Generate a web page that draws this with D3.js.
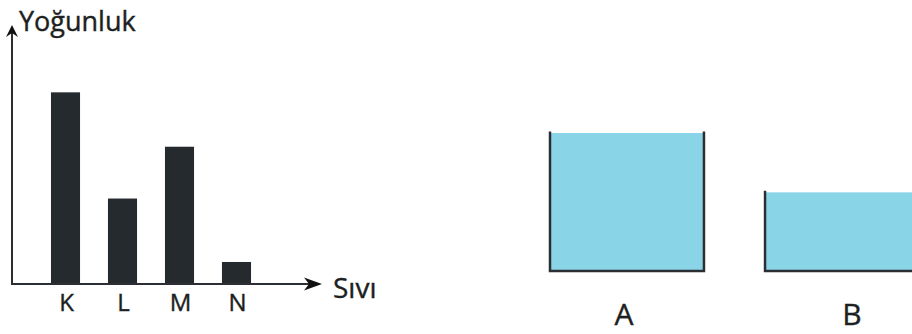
<!DOCTYPE html>
<html>
<head>
<meta charset="utf-8">
<script src="https://cdn.jsdelivr.net/npm/d3@7"></script>
<style>
  html, body { margin: 0; padding: 0; background: #fff; }
  svg { display: block; font-family: 'Open Sans', 'Noto Sans', sans-serif; }
  svg text { stroke: #1d1f22; stroke-width: 0.4px; }
</style>
</head>
<body>
<svg id="chart" width="912" height="334"></svg>
<script>
// bar chart: density of the liquids
const liquids = ['K', 'L', 'M', 'N'];
const densities = [7.4, 3.3, 5.3, 0.85];
const yLabel = 'Yoğunluk';
const xLabel = 'Sıvı';

// containers on the right, liquid level relative to A
const containers = ['A', 'B'];
const levels = [10, 5.7];

const svg = d3.select('#chart');
const ink = '#2b2e32';
const textColor = '#1d1f22';
const barColor = '#252a2f';
const water = '#8ad4e8';

const x = d3.scaleBand()
  .domain(liquids)
  .range([37, 265])
  .paddingInner(0.49)
  .paddingOuter(0.245);

const y = d3.scaleLinear()
  .domain([0, 10])
  .range([284, 25]);

const plot = svg.append('g');

plot.selectAll('rect.bar')
  .data(liquids)
  .join('rect')
  .attr('class', 'bar')
  .attr('x', (d) => x(d))
  .attr('width', x.bandwidth())
  .attr('y', (d, i) => y(densities[i]))
  .attr('height', (d, i) => y(0) - y(densities[i]))
  .attr('fill', barColor);

// category labels through the axis, no ticks
const axisX = plot.append('g')
  .attr('transform', `translate(1,${y(0)})`)
  .call(d3.axisBottom(x).tickSize(0).tickPadding(10));
axisX.select('.domain').remove();
axisX.selectAll('text')
  .attr('font-size', 24)
  .attr('font-family', 'Open Sans')
  .attr('fill', textColor);

// axes with arrow heads
const x0 = 12;
const xEnd = 322;
plot.append('line')
  .attr('x1', x0).attr('x2', xEnd - 10)
  .attr('y1', y(0)).attr('y2', y(0))
  .attr('stroke', ink).attr('stroke-width', 2);
plot.append('line')
  .attr('x1', x0).attr('x2', x0)
  .attr('y1', y(0) + 1).attr('y2', y(10) + 8)
  .attr('stroke', ink).attr('stroke-width', 2);

plot.append('path')
  .attr('d', `M${xEnd},${y(0)} L${xEnd - 18},${y(0) - 6.5} L${xEnd - 13},${y(0)} L${xEnd - 18},${y(0) + 6.5} Z`)
  .attr('fill', '#111');
plot.append('path')
  .attr('d', `M${x0},${y(10)} L${x0 - 6},${y(10) + 12} L${x0},${y(10) + 8} L${x0 + 6},${y(10) + 12} Z`)
  .attr('fill', '#111');

plot.append('text')
  .attr('x', 19).attr('y', 31)
  .attr('font-size', 27)
  .attr('fill', textColor)
  .text(yLabel);

plot.append('text')
  .attr('x', 333).attr('y', y(0) + 14)
  .attr('font-size', 28)
  .attr('fill', textColor)
  .text(xLabel);

// containers
const cx = d3.scaleBand()
  .domain(containers)
  .range([550, 919])
  .paddingInner(0.284)
  .paddingOuter(0);

const level = d3.scaleLinear()
  .domain([0, 10])
  .range([271, 133]);

const labelX = d3.scalePoint()
  .domain(containers)
  .range([624, 852]);

const tank = svg.append('g').selectAll('g')
  .data(containers)
  .join('g');

tank.append('rect')
  .attr('x', (d) => cx(d))
  .attr('width', cx.bandwidth())
  .attr('y', (d, i) => level(levels[i]))
  .attr('height', (d, i) => level(0) - level(levels[i]))
  .attr('fill', water);

tank.append('path')
  .attr('d', (d, i) => {
    const left = cx(d);
    const right = left + cx.bandwidth();
    const top = level(levels[i]) - 1.5;
    return `M${left},${top} V${level(0)} H${right} V${top}`;
  })
  .attr('fill', 'none')
  .attr('stroke', ink)
  .attr('stroke-width', 2.5);

tank.append('text')
  .attr('x', (d) => labelX(d))
  .attr('y', 325)
  .attr('text-anchor', 'middle')
  .attr('font-size', 30)
  .attr('fill', textColor)
  .text((d) => d);
</script>
</body>
</html>
